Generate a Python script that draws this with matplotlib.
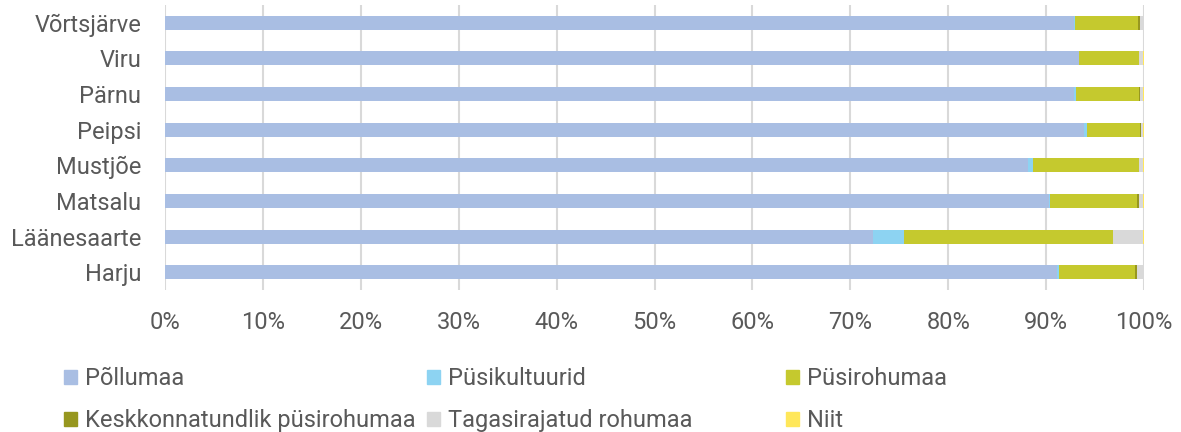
import numpy as np
import matplotlib
matplotlib.use("Agg")
import matplotlib.pyplot as plt
from matplotlib.patches import Patch

plt.rcParams['font.family'] = ['Roboto', 'DejaVu Sans']

# regions, bottom to top as drawn
regions = ['Harju', 'Läänesaarte', 'Matsalu', 'Mustjõe', 'Peipsi', 'Pärnu', 'Viru', 'Võrtsjärve']

# shares in %, same order as regions
pollumaa   = [91.1, 72.35, 90.3, 88.2, 93.9, 92.9, 93.35, 92.9]
pusikult   = [0.2, 3.15, 0.05, 0.45, 0.3, 0.15, 0.05, 0.1]
pusiroh    = [7.8, 21.35, 8.9, 10.85, 5.35, 6.45, 6.1, 6.35]
keskkonna  = [0.15, 0.0, 0.2, 0.0, 0.15, 0.1, 0.0, 0.2]
tagasi     = [0.75, 3.05, 0.45, 0.4, 0.2, 0.3, 0.4, 0.45]
niit       = [0.0, 0.1, 0.1, 0.1, 0.1, 0.1, 0.1, 0.0]

series = ['Põllumaa', 'Püsikultuurid', 'Püsirohumaa',
          'Keskkonnatundlik püsirohumaa', 'Tagasirajatud rohumaa', 'Niit']
colors = ['#A9BEE3', '#8DD3F2', '#C5C92E', '#97971F', '#D9D9D9', '#FFE75A']
values = [pollumaa, pusikult, pusiroh, keskkonna, tagasi, niit]

fig = plt.figure(figsize=(11.81, 4.32), dpi=100)
ax = fig.add_axes([165 / 1181, 1 - 290 / 432, (1144 - 165) / 1181, 285 / 432])

y = np.arange(len(regions))
left = np.zeros(len(regions))
for name, col, vals in zip(series, colors, values):
    vals = np.array(vals)
    ax.barh(y, vals, left=left, height=0.39, color=col, label=name, zorder=3)
    left += vals

ax.set_xlim(0, 100)
ax.set_ylim(-0.5, len(regions) - 0.5)
ax.set_yticks(y)
ax.set_yticklabels(regions)
ax.set_xticks(np.arange(0, 101, 10))
ax.set_xticklabels([f'{v}%' for v in range(0, 101, 10)])
ax.grid(axis='x', color='#D9D9D9', linewidth=1.5, zorder=0)
for s in ax.spines.values():
    s.set_visible(False)
ax.tick_params(axis='both', length=0, labelsize=17, colors='#595959')
ax.tick_params(axis='y', pad=17)
ax.tick_params(axis='x', pad=15)

# one legend per column so the columns sit at even spacing like the original
col_x = [55, 418, 777]
for k, x0 in enumerate(col_x):
    idx = [k, k + 3]
    leg = fig.legend([Patch(color=colors[i]) for i in idx], [series[i] for i in idx],
                     loc='upper left', bbox_to_anchor=(x0 / 1181, 1 - 358 / 432),
                     frameon=False, fontsize=17, labelcolor='#595959',
                     handlelength=0.55, handleheight=0.55, handletextpad=0.3,
                     labelspacing=0.8, borderaxespad=0)

fig.savefig('out.png', dpi=100)
